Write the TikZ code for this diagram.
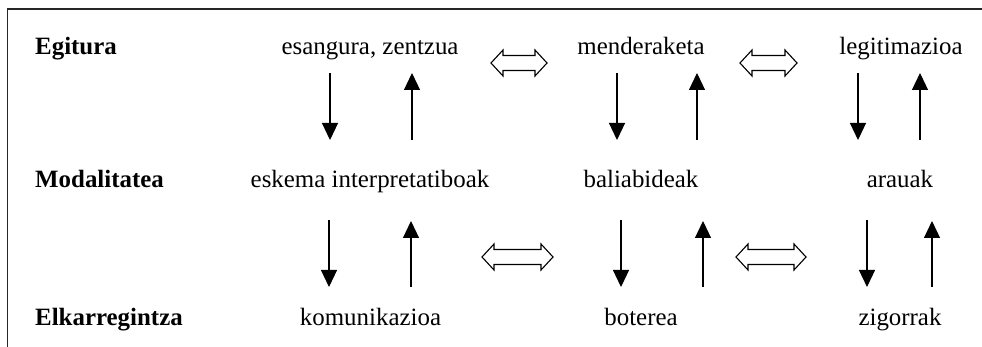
\documentclass[tikz,border=0pt]{standalone}
\usepackage{fontspec}
\setmainfont{Liberation Serif}
\usetikzlibrary{arrows.meta}
\tikzset{
  lbl/.style={anchor=base, inner sep=0pt, font=\fontsize{24.9}{30}\selectfont},
  rowlbl/.style={anchor=base west, inner sep=0pt, font=\fontsize{24.9}{30}\selectfont\bfseries},
  vconn/.style={line width=1.2pt, -{Triangle[width=16pt,length=17pt]}},
  openarr/.style={draw=black, fill=white, line width=1.1pt, line join=miter},
  frame/.style={line width=1.3pt, draw=black!85}
}
\newcommand\myopenarrow[3]{% xa, xb, cy
  \draw[openarr] (#1,#3) -- ({#1+12},{#3-13}) -- ({#1+12},{#3-7.5}) -- ({#2-12},{#3-7.5})
    -- ({#2-12},{#3-13}) -- (#2,#3) -- ({#2-12},{#3+13}) -- ({#2-12},{#3+7.5})
    -- ({#1+12},{#3+7.5}) -- ({#1+12},{#3+13}) -- cycle;}
\begin{document}
\begin{tikzpicture}[x=1pt,y=-1pt]
\useasboundingbox (0,0) rectangle (982,347);
% frame
\coordinate (fl) at (7.5,347);
\coordinate (fc) at (7.5,9);
\coordinate (fr) at (982,9);
\draw[frame] (fl) -- (fc) -- (fr);
% row labels
\node[rowlbl] (egitura) at (35,55) {Egitura};
\node[rowlbl] (modal) at (35,188) {Modalitatea};
\node[rowlbl] (elkar) at (35,325) {Elkarregintza};
% texts
\node[lbl] (esang) at (370,55) {esangura, zentzua};
\node[lbl] (mender) at (641,55) {menderaketa};
\node[lbl] (legit) at (901,55) {legitimazioa};
\node[lbl] (eskema) at (370,188) {eskema interpretatiboak};
\node[lbl] (baliab) at (641,188) {baliabideak};
\node[lbl] (arauak) at (900,188) {arauak};
\node[lbl] (komun) at (370.5,325) {komunikazioa};
\node[lbl] (boter) at (641,325) {boterea};
\node[lbl] (zigor) at (900,325) {zigorrak};
% connector end points
\foreach \n/\xd/\xu in {a/330/412, b/617/697, c/858/920}{
  \coordinate (td\n s) at (\xd,73);  \coordinate (td\n e) at (\xd,140);
  \coordinate (tu\n s) at (\xu,140); \coordinate (tu\n e) at (\xu,73);
}
\foreach \n/\xd/\xu in {a/329/411, b/621/703, c/867/932}{
  \coordinate (bd\n s) at (\xd,220); \coordinate (bd\n e) at (\xd,287);
  \coordinate (bu\n s) at (\xu,287); \coordinate (bu\n e) at (\xu,221);
}
\foreach \n in {a,b,c}{
  \draw[vconn] (td\n s) -- (td\n e);
  \draw[vconn] (tu\n s) -- (tu\n e);
  \draw[vconn] (bd\n s) -- (bd\n e);
  \draw[vconn] (bu\n s) -- (bu\n e);
}
% open double arrows
\myopenarrow{491}{547}{63}
\myopenarrow{740}{797}{63}
\myopenarrow{482}{553}{257}
\myopenarrow{736}{806}{257}
\end{tikzpicture}
\end{document}
